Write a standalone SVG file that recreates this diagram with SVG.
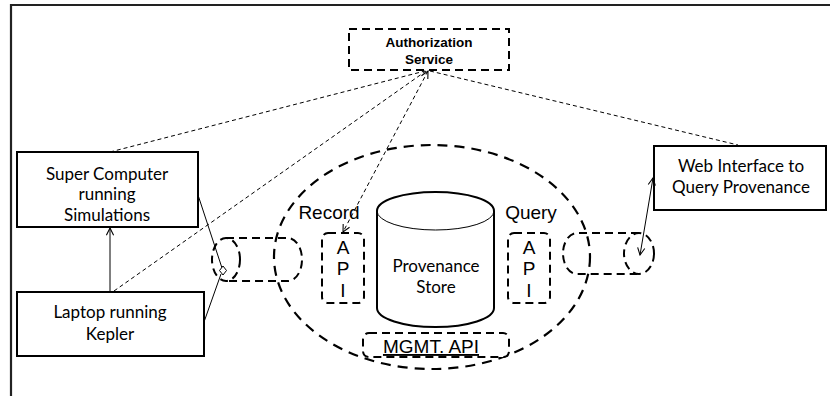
<svg xmlns="http://www.w3.org/2000/svg" width="830" height="396" viewBox="0 0 830 396">
  <style>
    .solid { fill: #fff; stroke: #000; stroke-width: 2; }
    .dash { fill: none; stroke: #000; stroke-width: 2; stroke-dasharray: 8 5; }
    .dashfill { fill: #fff; stroke: #000; stroke-width: 2; stroke-dasharray: 8 5; }
    .big { fill: none; stroke: #000; stroke-width: 2.2; stroke-dasharray: 10 7; }
    .dot { fill: none; stroke: #000; stroke-width: 1; stroke-dasharray: 4 3; }
    .thin { fill: none; stroke: #000; stroke-width: 1; }
    .cal { font-family: Lato, "Open Sans", "Liberation Sans", sans-serif; font-size: 17px; fill: #000; text-anchor: middle; }
    .ari { font-family: "Liberation Sans", Arial, sans-serif; font-size: 19px; fill: #000; text-anchor: middle; }
    .bold { font-family: "Liberation Sans", Arial, sans-serif; font-size: 13.5px; font-weight: bold; fill: #000; text-anchor: middle; }
  </style>
  <defs>
    <marker id="open" viewBox="0 0 10 10" refX="9" refY="5" markerWidth="9" markerHeight="9" markerUnits="userSpaceOnUse" orient="auto-start-reverse">
      <path d="M1,1 L9,5 L1,9" fill="none" stroke="#000" stroke-width="1.2"/>
    </marker>
  </defs>

  <rect width="830" height="396" fill="#fff"/>
  <!-- page frame -->
  <path d="M11,396 V5 H830" fill="none" stroke="#222" stroke-width="2.2"/>

  <!-- provenance service boundary -->
  <ellipse cx="432" cy="257" rx="158" ry="112" class="big"/>

  <g id="auth">
    <rect x="349" y="29" width="160" height="41" class="dash"/>
    <text class="bold" x="429" y="47">Authorization</text>
    <text class="bold" x="429" y="64">Service</text>
  </g>

  <g id="supercomputer">
    <rect x="17" y="152" width="181" height="75" class="solid"/>
    <text class="cal" x="107" y="179.5">Super Computer</text>
    <text class="cal" x="107" y="200">running</text>
    <text class="cal" x="107" y="220.5">Simulations</text>
  </g>

  <g id="laptop">
    <rect x="17" y="292" width="187" height="64" class="solid"/>
    <text class="cal" x="110" y="318">Laptop running</text>
    <text class="cal" x="110" y="340">Kepler</text>
  </g>

  <g id="webinterface">
    <rect x="654" y="146" width="172" height="64" class="solid"/>
    <text class="cal" x="741" y="172">Web Interface to</text>
    <text class="cal" x="741" y="193">Query Provenance</text>
  </g>

  <g id="record-channel">
    <path d="M226,238 H288 A14,21.5 0 0 1 288,281 H226" class="dash"/>
    <ellipse cx="226" cy="259.5" rx="14" ry="21.5" class="dash"/>
  </g>

  <g id="query-channel">
    <path d="M639,233 H577 A14,20.5 0 0 0 577,274 H639" class="dash"/>
    <ellipse cx="639" cy="253.5" rx="15" ry="20.5" class="dash"/>
  </g>

  <g id="record-api">
    <text class="ari" x="329" y="219">Record</text>
    <rect x="322" y="233" width="42" height="70" rx="6" class="dash"/>
    <text class="ari" x="343" y="254">A</text>
    <text class="ari" x="343" y="275">P</text>
    <text class="ari" x="343" y="297">I</text>
  </g>

  <g id="query-api">
    <text class="ari" x="531" y="219">Query</text>
    <rect x="508" y="233" width="42" height="70" rx="6" class="dash"/>
    <text class="ari" x="529" y="254">A</text>
    <text class="ari" x="529" y="275">P</text>
    <text class="ari" x="529" y="297">I</text>
  </g>

  <g id="store">
    <path d="M377,211 A58.5,19 0 0 1 494,211 V308 A58.5,19 0 0 1 377,308 Z" class="solid"/>
    <path d="M377,211 A58.5,19 0 0 0 494,211" class="thin" stroke-width="2"/>
    <text class="cal" x="436" y="271.5">Provenance</text>
    <text class="cal" x="436" y="293">Store</text>
  </g>

  <g id="mgmt-api">
    <rect x="363" y="333" width="146" height="24" rx="6" class="dashfill"/>
    <text class="ari" x="431" y="353" text-decoration="underline">MGMT. API</text>
  </g>

  <g id="connectors">
    <line x1="110" y1="292" x2="110" y2="228" class="thin" marker-end="url(#open)"/>
    <line x1="110" y1="152" x2="425" y2="71" class="dot"/>
    <line x1="114" y1="291" x2="426" y2="71" class="dot"/>
    <line x1="428" y1="71" x2="343" y2="232" class="dot" marker-start="url(#open)" marker-end="url(#open)"/>
    <line x1="430" y1="71" x2="738" y2="145" class="dot"/>
    <line x1="198" y1="195" x2="222" y2="268" class="thin"/>
    <line x1="204" y1="322" x2="221" y2="274" class="thin"/>
    <polygon points="223,266 226.5,270.5 223,275 219.5,270.5" fill="#fff" stroke="#000" stroke-width="1"/>
    <line x1="653" y1="178" x2="640" y2="255" class="thin" marker-start="url(#open)" marker-end="url(#open)"/>
  </g>
</svg>
